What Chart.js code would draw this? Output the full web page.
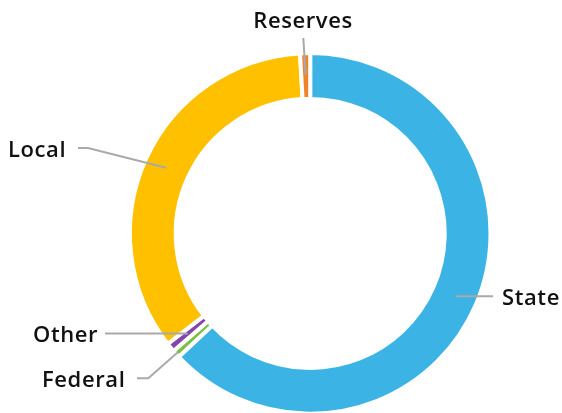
<!DOCTYPE html>
<html>
<head>
<meta charset="utf-8">
<script src="https://cdn.jsdelivr.net/npm/chart.js@4"></script>
<style>
  html, body { margin: 0; padding: 0; background: #fff; }
  canvas { display: block; }
</style>
</head>
<body>
<canvas id="chart" width="562" height="413"></canvas>
<script>
// Funding sources, share of total (%)
const categories = ['State', 'Federal', 'Other', 'Local', 'Reserves'];
const shares = [63.0, 0.7, 0.8, 34.6, 0.9];
const colors = ['#3bb4e5', '#7ac143', '#8446a8', '#ffc000', '#f0842a'];

// where each callout sits: text spot, optional elbow, how deep into the ring the line ends
const callouts = {
    State:    { x: 502, y: 305, align: 'left',   start: [493, null], depth: 0.52 },
    Federal:  { x: 42,  y: 387, align: 'left',   start: [137, 378.3], elbow: [148.3, 378.3], depth: 0.95 },
    Other:    { x: 33,  y: 341.5, align: 'left', start: [105, null], depth: 0.52 },
    Local:    { x: 8,   y: 157, align: 'left',   start: [78, 148], elbow: [88, 148], depth: 0.52 },
    Reserves: { x: 303, y: 28,  align: 'center', start: [303.3, 38], depth: 0.52 },
};

const calloutPlugin = {
    id: 'callouts',
    afterDatasetsDraw(chart) {
        const ctx = chart.ctx;
        const arcs = chart.getDatasetMeta(0).data;
        ctx.save();
        arcs.forEach((arc, i) => {
            const c = callouts[categories[i]];
            if (!c) return;
            const mid = (arc.startAngle + arc.endAngle) / 2;
            const r = arc.innerRadius + c.depth * (arc.outerRadius - arc.innerRadius);
            const ax = arc.x + r * Math.cos(mid);
            const ay = arc.y + r * Math.sin(mid);

            ctx.strokeStyle = '#a9a9a9';
            ctx.lineWidth = 2;
            ctx.beginPath();
            const sy = c.start[1] === null ? ay : c.start[1];
            ctx.moveTo(c.start[0], sy);
            if (c.elbow) ctx.lineTo(c.elbow[0], c.elbow[1]);
            ctx.lineTo(ax, ay);
            ctx.stroke();

            ctx.fillStyle = '#111111';
            ctx.font = '600 22px "Open Sans"';
            ctx.letterSpacing = '0.6px';
            ctx.textAlign = c.align;
            ctx.textBaseline = 'alphabetic';
            ctx.fillText(categories[i], c.x, c.y);
        });
        ctx.restore();
    },
};

new Chart(document.getElementById('chart'), {
    type: 'doughnut',
    data: {
        labels: categories,
        datasets: [{
            data: shares,
            backgroundColor: colors,
            borderColor: '#ffffff',
            borderWidth: 4,
            hoverOffset: 0,
        }],
    },
    options: {
        responsive: false,
        animation: false,
        devicePixelRatio: 1,
        radius: 180.3,
        cutout: '74.6%',
        layout: { padding: { top: 60, bottom: 6.2, left: 140, right: 81.6 } },
        plugins: {
            legend: { display: false },
            tooltip: { enabled: false },
        },
    },
    plugins: [calloutPlugin],
});
</script>
</body>
</html>
